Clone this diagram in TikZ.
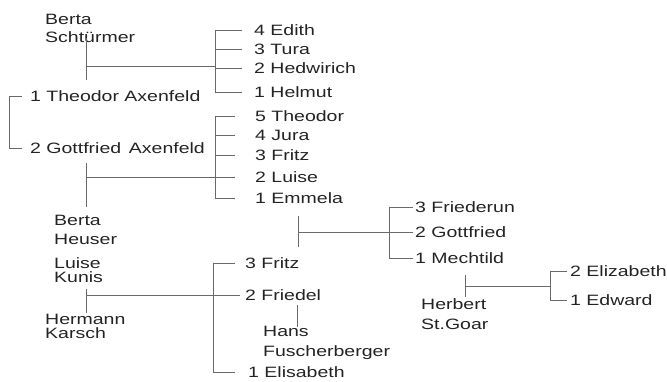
\documentclass[tikz,border=0pt]{standalone}
\usepackage{fontspec}
\setmainfont{Liberation Sans}[FakeStretch=1.3]
\usetikzlibrary{positioning, calc}
\definecolor{treegray}{RGB}{105, 105, 105}
\definecolor{nametext}{RGB}{35, 35, 35}
\tikzstyle{person} = [anchor=west, inner sep=0pt, text=nametext, font=\fontsize{12.8}{15}\selectfont]
\tikzstyle{couple} = [anchor=north west, inner sep=0pt, align=left, text=nametext]
\tikzstyle{branch} = [draw=treegray, line width=0.8pt]

\begin{document}
\begin{tikzpicture}[x=0.03cm, y=-0.03cm]

\useasboundingbox (0,0) rectangle (667,381);

% Parents
\node[couple, font=\fontsize{12.8}{15.4}\selectfont] (schtuermer) at (45,14) {Berta\\Schtürmer};
\node[person] (theodorA) at (30,96) {1 Theodor Axenfeld};
\node[person] (gottfriedA) at (30,148) {2 Gottfried\hspace{0.15em} Axenfeld};
\node[couple, font=\fontsize{12.8}{16.2}\selectfont] (heuser) at (54,215) {Berta\\Heuser};
\node[couple, font=\fontsize{12.8}{12}\selectfont] (kunis) at (54,257) {Luise\\Kunis};
\node[couple, font=\fontsize{12.8}{12}\selectfont] (karsch) at (45,314) {Hermann\\Karsch};

% Children of Theodor
\node[person] (edith) at (254,30) {4 Edith};
\node[person] (tura) at (254,49) {3 Tura};
\node[person] (hedwirich) at (254,68) {2 Hedwirich};
\node[person] (helmut) at (254,92) {1 Helmut};

% Children of Gottfried
\node[person] (theodor) at (255,116) {5 Theodor};
\node[person] (jura) at (255,135) {4 Jura};
\node[person] (fritzA) at (255,155) {3 Fritz};
\node[person] (luise) at (255,177) {2 Luise};
\node[person] (emmela) at (255,198) {1 Emmela};

% Children of Luise Kunis
\node[person] (fritzK) at (245,263) {3 Fritz};
\node[person] (friedel) at (245,295) {2 Friedel};
\node[couple, font=\fontsize{12.8}{17.1}\selectfont] (fuscher) at (263,326) {Hans\\Fuscherberger};
\node[person] (elisabeth) at (248,372) {1 Elisabeth};

% Grandchildren
\node[person] (friederun) at (415,207) {3 Friederun};
\node[person] (gottfried) at (415,232) {2 Gottfried};
\node[person] (mechtild) at (415,258) {1 Mechtild};
\node[couple, font=\fontsize{12.8}{17.1}\selectfont] (stgoar) at (421,298) {Herbert\\St.Goar};
\node[person] (elizabeth) at (570,271) {2 Elizabeth};
\node[person] (edward) at (570,300) {1 Edward};

% Marriage points and brackets
\coordinate (m1) at (86,66);
\coordinate (m2) at (86,177);
\coordinate (m3) at (86,295);
\coordinate (m4) at (298,232);
\coordinate (m5) at (465,286);
\coordinate (m6) at (297,316);
\coordinate (sib) at (9,120);
\coordinate (b1) at (215,66);
\coordinate (b2) at (215,177);
\coordinate (b3) at (213,295);
\coordinate (b4) at (389,232);
\coordinate (b5) at (550,286);

% Siblings Theodor / Gottfried
\draw[branch] ([xshift=-0.24cm]theodorA.west) -| (sib |- gottfriedA.west) -- ([xshift=-0.24cm]gottfriedA.west);

% Family 1
\draw[branch, shorten <=-0.15cm, shorten >=0.32cm] (m1 |- schtuermer.south) -- (m1 |- theodorA.north);
\draw[branch] (m1) -- (b1);
\draw[branch] ([xshift=-0.36cm]edith.west) -| (b1 |- helmut.west) -- ([xshift=-0.36cm]helmut.west);
\draw[branch] (b1 |- tura.west) -- ([xshift=-0.36cm]tura.west);
\draw[branch] (b1 |- hedwirich.west) -- ([xshift=-0.36cm]hedwirich.west);

% Family 2
\draw[branch, shorten <=0.285cm, shorten >=0.24cm] (m2 |- gottfriedA.south) -- (m2 |- heuser.north);
\draw[branch] (m2) -- (b2);
\draw[branch] ([xshift=-0.6cm]theodor.west) -| (b2 |- emmela.west) -- ([xshift=-0.6cm]emmela.west);
\draw[branch] (b2 |- jura.west) -- ([xshift=-0.6cm]jura.west);
\draw[branch] (b2 |- fritzA.west) -- ([xshift=-0.6cm]fritzA.west);
\draw[branch] (b2 |- luise.west) -- ([xshift=-0.6cm]luise.west);

% Family 3
\draw[branch, shorten <=0.18cm, shorten >=0.03cm] (m3 |- kunis.south) -- (m3 |- karsch.north);
\draw[branch] (m3) -- (b3);
\draw[branch] ([xshift=-0.3cm]fritzK.west) -| (b3 |- elisabeth.west) -- ([xshift=-0.39cm]elisabeth.west);
\draw[branch] (b3 |- friedel.west) -- ([xshift=-0.15cm]friedel.west);
\draw[branch, shorten <=0.135cm, shorten >=-0.03cm] (m6 |- friedel.south) -- (m6 |- fuscher.north);

% Family 4
\draw[branch, shorten <=0.375cm, shorten >=0.315cm] (m4 |- emmela.south) -- (m4 |- fritzK.north);
\draw[branch] (m4) -- (b4);
\draw[branch] ([xshift=-0.06cm]friederun.west) -| (b4 |- mechtild.west) -- ([xshift=-0.06cm]mechtild.west);
\draw[branch] (b4 |- gottfried.west) -- ([xshift=-0.06cm]gottfried.west);

% Family 5
\draw[branch, shorten <=0.345cm, shorten >=0.03cm] (m5 |- mechtild.south) -- (m5 |- stgoar.north);
\draw[branch] (m5) -- (b5);
\draw[branch] ([xshift=-0.09cm]elizabeth.west) -| (b5 |- edward.west) -- ([xshift=-0.09cm]edward.west);

\end{tikzpicture}
\end{document}
